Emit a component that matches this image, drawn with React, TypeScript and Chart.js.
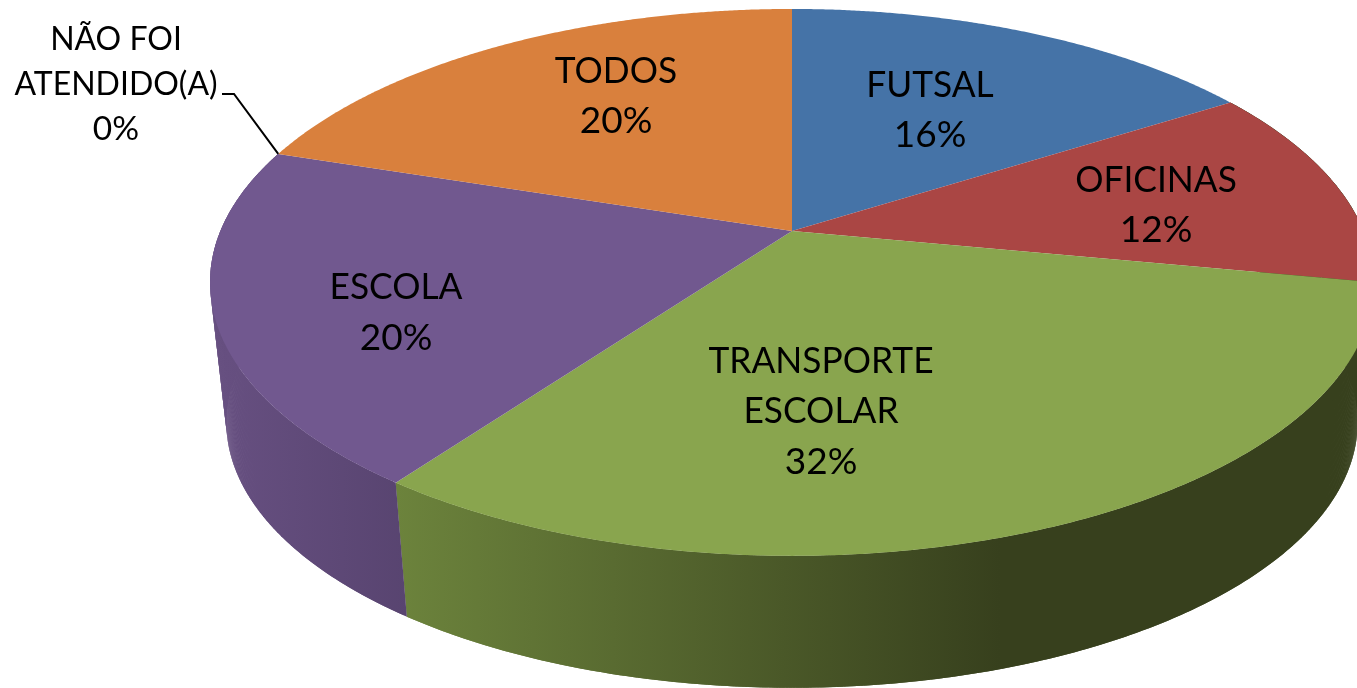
import React, { useEffect, useRef } from "react";
import { Chart, registerables } from "chart.js";

Chart.register(...registerables);

const categories = ["FUTSAL", "OFICINAS", "TRANSPORTE ESCOLAR", "ESCOLA", "NÃO FOI ATENDIDO(A)", "TODOS"];
const values = [16, 12, 32, 20, 0, 20];
const percentLabels = ["16%", "12%", "32%", "20%", "0%", "20%"];
const topColors = ["#4573a7", "#aa4644", "#89a54e", "#71588f", "#4298af", "#d9803d"];

const labelLines: string[][] = [
  ["FUTSAL", "16%"],
  ["OFICINAS", "12%"],
  ["TRANSPORTE", "ESCOLAR", "32%"],
  ["ESCOLA", "20%"],
  ["NÃO FOI", "ATENDIDO(A)", "0%"],
  ["TODOS", "20%"],
];
const labelCenters = [
  [930, 85],
  [1156, 180],
  [821, 361],
  [396, 287],
  [116, 39],
  [616, 71],
];
const lineHeights = [50, 50, 50.5, 51, 45, 50];
const labelFonts = [37, 37, 37, 37, 33.5, 37];
const TEXT_SQUEEZE = 0.955;

// Perspective of the pie's disc
const CX = 792;
const CY = 231;
const A = 571.6;
const B = 263.8;
const K = 0.188;
const WALL_SCALE = 0.972;
const WALL_DROP = 141;

type P = [number, number];
const top = (t: number): P => {
  const X = Math.cos(t);
  const Y = Math.sin(t);
  const w = 1 - K * Y;
  return [CX + (A * X) / w, CY + (B * Y) / w];
};
const bottom = (t: number): P => {
  const [x, y] = top(t);
  return [CX + (x - CX) * WALL_SCALE, y + (y - CY) * (WALL_SCALE - 1) + WALL_DROP];
};
const arcPts = (f: (t: number) => P, a: number, b: number): P[] => {
  const n = Math.max(2, Math.ceil(Math.abs(b - a) / 0.005));
  const out: P[] = [];
  for (let i = 0; i <= n; i++) out.push(f(a + ((b - a) * i) / n));
  return out;
};

const wallStops: Record<number, [number, number, string, string]> = {
  0: [1000, 1400, "#374020", "#374020"],
  1: [1000, 1400, "#374020", "#374020"],
  2: [397, 1000, "#6c833c", "#37401d"],
  3: [227, 408, "#664f80", "#584470"],
};

const pie3d = {
  id: "pie3d",
  beforeDatasetsDraw(chart: any) {
    const ctx: CanvasRenderingContext2D = chart.ctx;
    const arcs = chart.getDatasetMeta(0).data;
    ctx.save();
    // side walls, swept in thin overlapping quads so the silhouette is filled
    arcs.forEach((arc: any, i: number) => {
      const s = wallStops[i];
      if (!s || arc.endAngle - arc.startAngle <= 0) return;
      const a = Math.max(arc.startAngle, -0.2);
      const b = arc.endAngle;
      const g = ctx.createLinearGradient(s[0], 0, s[1], 0);
      g.addColorStop(0, s[2]);
      g.addColorStop(1, s[3]);
      ctx.fillStyle = g;
      const t = arcPts(top, a, b);
      const u = arcPts(bottom, a, b);
      for (let k = 0; k + 1 < t.length; k++) {
        const e = Math.min(k + 2, t.length - 1);
        ctx.beginPath();
        ctx.moveTo(t[k][0], t[k][1]);
        ctx.lineTo(t[e][0], t[e][1]);
        ctx.lineTo(u[e][0], u[e][1]);
        ctx.lineTo(u[k][0], u[k][1]);
        ctx.closePath();
        ctx.fill();
      }
    });
    // top faces
    arcs.forEach((arc: any, i: number) => {
      if (arc.endAngle - arc.startAngle <= 0) return;
      ctx.fillStyle = topColors[i];
      ctx.beginPath();
      ctx.moveTo(CX, CY);
      arcPts(top, arc.startAngle, arc.endAngle).forEach((p) => ctx.lineTo(p[0], p[1]));
      ctx.closePath();
      ctx.fill();
    });
    // leader line of the zero slice
    const zero = arcs[4];
    const tip = top(zero.startAngle);
    ctx.strokeStyle = "#000000";
    ctx.lineWidth = 2;
    ctx.beginPath();
    ctx.moveTo(222, 94);
    ctx.lineTo(234, 94);
    ctx.lineTo(tip[0], tip[1]);
    ctx.stroke();
    // labels
    ctx.fillStyle = "#000000";
    ctx.textAlign = "center";
    ctx.textBaseline = "middle";
    labelLines.forEach((lines, i) => {
      ctx.font = `${labelFonts[i]}px Lato, Carlito, sans-serif`;
      lines.forEach((line, j) => {
        ctx.save();
        ctx.translate(labelCenters[i][0], labelCenters[i][1] + j * lineHeights[i]);
        if (!line.endsWith("%")) ctx.scale(TEXT_SQUEEZE, 1);
        ctx.fillText(line, 0, 0);
        ctx.restore();
      });
    });
    ctx.restore();
    return false;
  },
};

export default function App() {
  const ref = useRef<HTMLCanvasElement>(null);
  useEffect(() => {
    document.body.style.margin = "0";
    const chart = new Chart(ref.current!, {
      type: "pie",
      data: {
        labels: categories.map((c, i) => `${c} ${percentLabels[i]}`),
        datasets: [{ data: values, backgroundColor: topColors, borderWidth: 0 }],
      },
      options: {
        animation: false,
        responsive: false,
        plugins: { legend: { display: false }, tooltip: { enabled: false } },
      },
      plugins: [pie3d],
    } as any);
    return () => chart.destroy();
  }, []);
  return (
    <div style={{ width: 1357, height: 688, overflow: "hidden", background: "#fff" }}>
      <canvas ref={ref} width={1357} height={688} style={{ display: "block" }} />
    </div>
  );
}
